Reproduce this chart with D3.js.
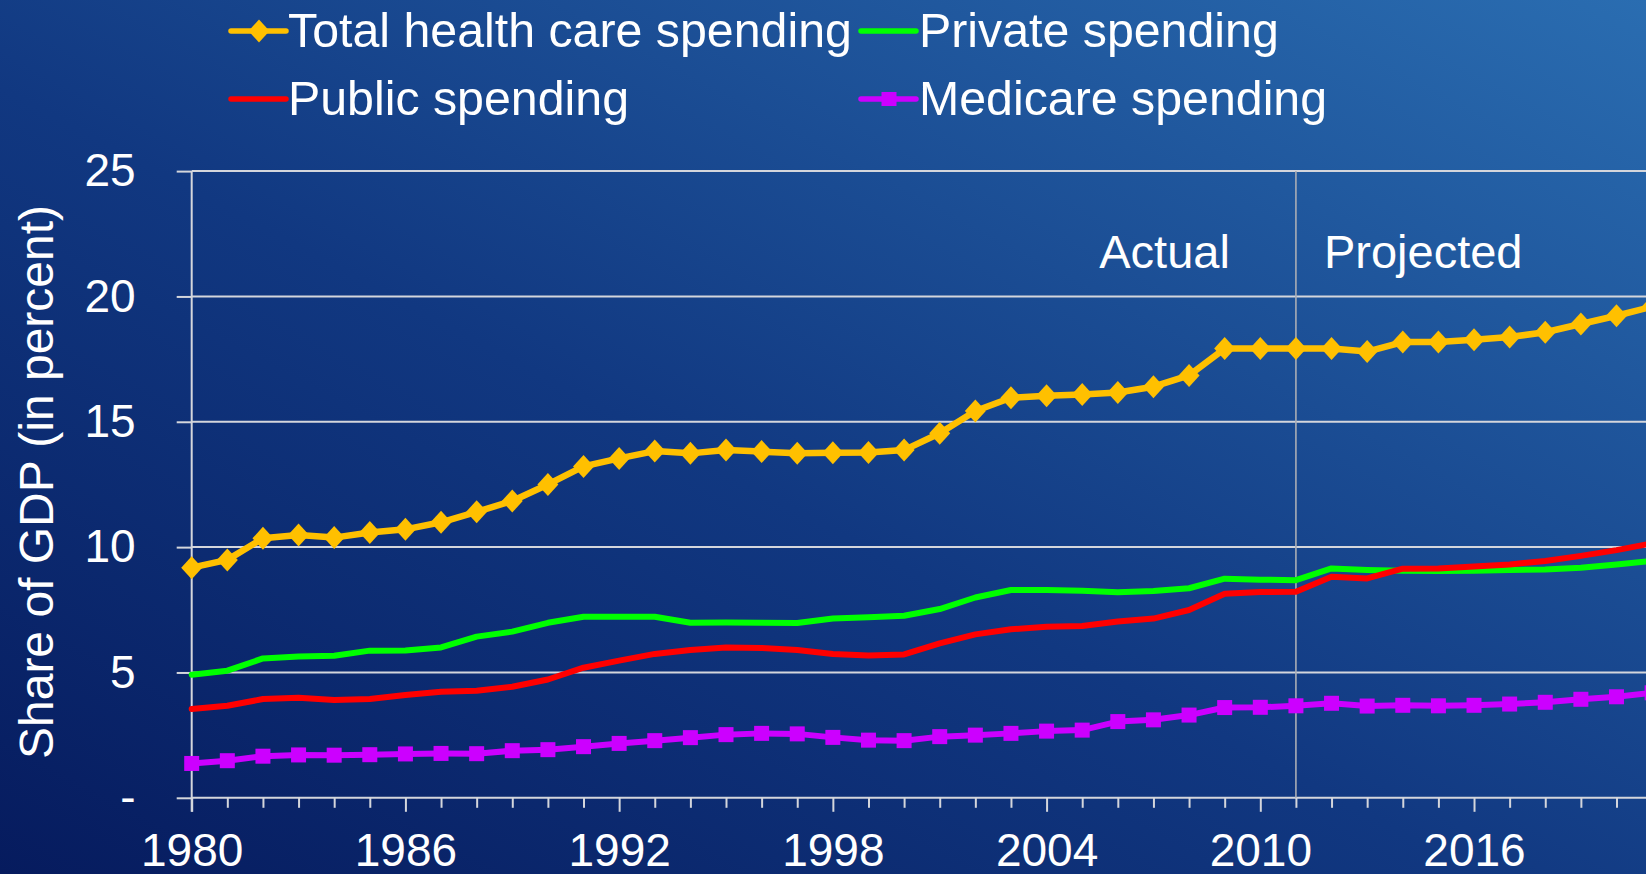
<!DOCTYPE html>
<html>
<head>
<meta charset="utf-8">
<script src="https://cdn.jsdelivr.net/npm/d3@7/dist/d3.min.js"></script>
<style>
  html, body { margin: 0; padding: 0; overflow: hidden; background: #0a2366; }
  svg { display: block; }
  text { font-family: "Liberation Sans", Arial, sans-serif; fill: #ffffff; }
</style>
</head>
<body>
<svg id="chart" width="1646" height="874"></svg>
<script>
// ---------------- data ----------------
const years = d3.range(1980, 2022);
const totalSpending = [9.18, 9.49, 10.35, 10.48, 10.38, 10.58, 10.71, 10.99, 11.41, 11.84,
  12.5, 13.22, 13.54, 13.83, 13.74, 13.87, 13.81, 13.74, 13.76, 13.77,
  13.87, 14.54, 15.43, 15.96, 16.04, 16.09, 16.17, 16.4, 16.85, 17.92,
  17.92, 17.92, 17.92, 17.8, 18.18, 18.18, 18.27, 18.38, 18.57, 18.9,
  19.23, 19.59];
const privateSpending = [4.91, 5.07, 5.56, 5.64, 5.67, 5.87, 5.88, 6.0, 6.43, 6.63,
  6.98, 7.22, 7.22, 7.22, 6.98, 6.99, 6.98, 6.97, 7.15, 7.2,
  7.26, 7.53, 7.99, 8.29, 8.29, 8.26, 8.2, 8.25, 8.36, 8.74,
  8.7, 8.68, 9.15, 9.09, 9.06, 9.05, 9.06, 9.09, 9.11, 9.18,
  9.31, 9.45];
const publicSpending = [3.54, 3.67, 3.94, 3.99, 3.9, 3.94, 4.1, 4.23, 4.27, 4.43,
  4.72, 5.19, 5.47, 5.74, 5.9, 6.0, 5.98, 5.9, 5.74, 5.68,
  5.72, 6.16, 6.52, 6.72, 6.82, 6.85, 7.03, 7.15, 7.49, 8.14,
  8.21, 8.22, 8.82, 8.75, 9.14, 9.15, 9.23, 9.31, 9.45, 9.65,
  9.88, 10.15];
const medicareSpending = [1.37, 1.48, 1.66, 1.71, 1.7, 1.72, 1.75, 1.77, 1.76, 1.88,
  1.92, 2.04, 2.17, 2.28, 2.4, 2.52, 2.57, 2.55, 2.41, 2.3,
  2.28, 2.44, 2.5, 2.57, 2.66, 2.7, 3.04, 3.11, 3.3, 3.6,
  3.61, 3.67, 3.77, 3.66, 3.69, 3.67, 3.69, 3.74, 3.81, 3.93,
  4.03, 4.19];
const seriesNames = ["Total health care spending", "Private spending", "Public spending", "Medicare spending"];
const yTickValues = [0, 5, 10, 15, 20, 25];
const xLabelYears = [1980, 1986, 1992, 1998, 2004, 2010, 2016];
const projectionStartYear = 2011;
const yAxisTitle = "Share of GDP (in percent)";
const annotationLeft = "Actual";
const annotationRight = "Projected";

// ---------------- layout ----------------
const W = 1646, H = 874;
const x0 = 191.7, yearStep = 35.62;
const x = d3.scaleLinear().domain([1980, 2021]).range([x0, x0 + 41 * yearStep]);
const y = d3.scaleLinear().domain([0, 25]).range([797.8, 171.1]);

const svg = d3.select("#chart");
const defs = svg.append("defs");
const grad = defs.append("linearGradient").attr("id", "bg")
  .attr("x1", 0).attr("y1", 1).attr("x2", 1).attr("y2", 0);
grad.append("stop").attr("offset", 0).attr("stop-color", "#061b5e");
grad.append("stop").attr("offset", 0.45).attr("stop-color", "#113881");
grad.append("stop").attr("offset", 1).attr("stop-color", "#2a6db1");
svg.append("rect").attr("width", W).attr("height", H).attr("fill", "url(#bg)");

const gridColor = "#d4d6dc";

// horizontal gridlines
svg.append("g").selectAll("line").data(yTickValues).join("line")
  .attr("x1", x0).attr("x2", W)
  .attr("y1", d => y(d)).attr("y2", d => y(d))
  .attr("stroke", gridColor).attr("stroke-width", 2);

// y axis
const yAxis = d3.axisLeft(y).tickValues(yTickValues).tickSize(15).tickPadding(41)
  .tickFormat(d => d === 0 ? "-" : d);
const gy = svg.append("g").attr("transform", `translate(${x0},0)`).call(yAxis);
gy.select(".domain").remove();
gy.selectAll(".tick line").attr("stroke", gridColor).attr("stroke-width", 2);
gy.selectAll(".tick text").style("font-size", "46px").attr("fill", "#fff")
  .style("font-family", '"Liberation Sans", Arial, sans-serif');
// y axis line
svg.append("line").attr("x1", x0).attr("x2", x0).attr("y1", y(25)).attr("y2", y(0) + 14)
  .attr("stroke", gridColor).attr("stroke-width", 2);

// x axis
const xAxis = d3.axisBottom(x).tickValues(years).tickSize(10).tickPadding(26)
  .tickFormat(d => xLabelYears.includes(d) ? d : "");
const gx = svg.append("g").attr("transform", `translate(0,${y(0)})`).call(xAxis);
gx.select(".domain").remove();
gx.selectAll(".tick line").attr("stroke", gridColor).attr("stroke-width", 2)
  .attr("y2", d => (d - 1980) % 6 === 0 ? 14 : 10);
gx.selectAll(".tick text").style("font-size", "46px").attr("fill", "#fff")
  .style("font-family", '"Liberation Sans", Arial, sans-serif');

// projection divider
svg.append("line").attr("x1", x(projectionStartYear)).attr("x2", x(projectionStartYear))
  .attr("y1", y(25)).attr("y2", y(0))
  .attr("stroke", "#a9adb5").attr("stroke-width", 1.6);

svg.append("text").attr("x", x(projectionStartYear) - 66).attr("y", 268)
  .attr("text-anchor", "end").style("font-size", "47px").text(annotationLeft);
svg.append("text").attr("x", x(projectionStartYear) + 28).attr("y", 268)
  .attr("text-anchor", "start").style("font-size", "47px").text(annotationRight);

// y axis title
svg.append("text")
  .attr("transform", `translate(53,482) rotate(-90)`)
  .attr("text-anchor", "middle").style("font-size", "48px").text(yAxisTitle);

// series
const series = [
  { name: seriesNames[0], values: totalSpending, color: "#ffc000", width: 6.5, marker: "diamond" },
  { name: seriesNames[1], values: privateSpending, color: "#00ff00", width: 6, marker: null },
  { name: seriesNames[2], values: publicSpending, color: "#ff0000", width: 6, marker: null },
  { name: seriesNames[3], values: medicareSpending, color: "#cc00ff", width: 6, marker: "square" }
];
const diamondPath = "M0,-11.5L10.5,0L0,11.5L-10.5,0Z";

const line = d3.line().x((d, i) => x(years[i])).y(d => y(d));
series.forEach(s => {
  const g = svg.append("g");
  g.append("path").attr("d", line(s.values)).attr("fill", "none")
    .attr("stroke", s.color).attr("stroke-width", s.width)
    .attr("stroke-linejoin", "round").attr("stroke-linecap", "round");
  if (s.marker === "diamond") {
    g.selectAll("path.m").data(s.values).join("path").attr("class", "m")
      .attr("d", diamondPath)
      .attr("transform", (d, i) => `translate(${x(years[i])},${y(d)})`)
      .attr("fill", s.color);
  } else if (s.marker === "square") {
    g.selectAll("rect").data(s.values).join("rect")
      .attr("x", (d, i) => x(years[i]) - 7.5).attr("y", d => y(d) - 7.5)
      .attr("width", 15).attr("height", 15).attr("fill", s.color);
  }
});

// legend
const legendPos = [
  { lx: 231, ty: 31, tx: 290 },
  { lx: 861, ty: 31, tx: 921 },
  { lx: 231, ty: 99, tx: 290 },
  { lx: 861, ty: 99, tx: 921 }
];
series.forEach((s, i) => {
  const p = legendPos[i];
  const g = svg.append("g");
  g.append("line").attr("x1", p.lx).attr("x2", p.lx + 55).attr("y1", p.ty).attr("y2", p.ty)
    .attr("stroke", s.color).attr("stroke-width", 5.5).attr("stroke-linecap", "round");
  if (s.marker === "diamond") {
    g.append("path").attr("d", diamondPath).attr("transform", `translate(${p.lx + 28},${p.ty})`)
      .attr("fill", s.color);
  } else if (s.marker === "square") {
    g.append("rect").attr("x", p.lx + 28 - 7.5).attr("y", p.ty - 7).attr("width", 15).attr("height", 14)
      .attr("fill", s.color);
  }
  g.append("text").attr("x", p.tx - 2).attr("y", p.ty + 16).style("font-size", "48.3px").text(s.name);
});
</script>
</body>
</html>
